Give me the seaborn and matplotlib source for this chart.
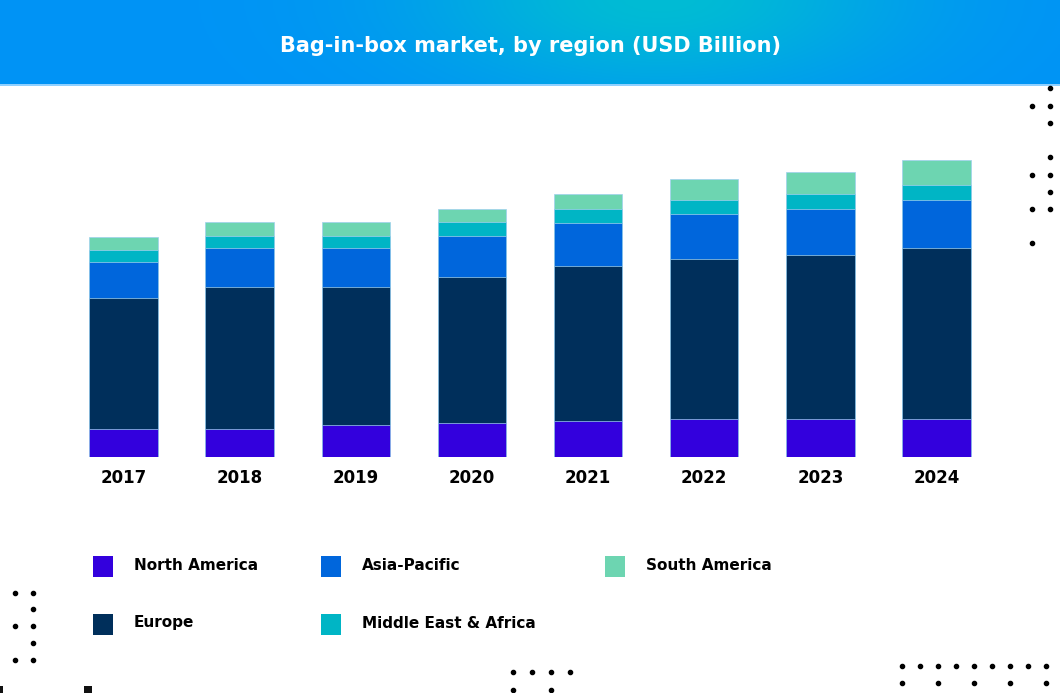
import numpy as np
import pandas as pd
import matplotlib.pyplot as plt
from matplotlib.patches import Rectangle
import seaborn as sns

years = ['2017', '2018', '2019', '2020', '2021', '2022', '2023', '2024']
north_america = [0.275, 0.275, 0.315, 0.338, 0.352, 0.375, 0.375, 0.375]
europe = [1.313, 1.420, 1.380, 1.457, 1.550, 1.597, 1.640, 1.710]
asia_pacific = [0.360, 0.390, 0.390, 0.413, 0.436, 0.450, 0.460, 0.483]
middle_east_africa = [0.117, 0.123, 0.120, 0.134, 0.140, 0.143, 0.153, 0.150]
south_america = [0.127, 0.134, 0.137, 0.136, 0.147, 0.213, 0.214, 0.247]

regions = ['North America', 'Europe', 'Asia-Pacific', 'Middle East & Africa', 'South America']
colors = ['#3300dd', '#002f5b', '#0066dc', '#00b5c5', '#6dd5b1']

df = pd.DataFrame({
    'year': years,
    'North America': north_america,
    'Europe': europe,
    'Asia-Pacific': asia_pacific,
    'Middle East & Africa': middle_east_africa,
    'South America': south_america,
})

sns.set_theme(style='white')
plt.rcParams['font.family'] = ['DejaVu Sans']

W, H = 1060, 693
fig = plt.figure(figsize=(W / 100, H / 100), dpi=100)

# header banner with soft gradient
bax = fig.add_axes([0, 1 - 84 / H, 1, 84 / H])
gx, gy = np.meshgrid(np.linspace(0, W, 400), np.linspace(0, 84, 40))
w = np.exp(-((gx - 660) / 240) ** 2 - ((gy + 5) / 100) ** 2)
base = np.array([0, 147, 246]) / 255
cyan = np.array([0, 188, 212]) / 255
img = base[None, None, :] * (1 - w[..., None]) + cyan[None, None, :] * w[..., None]
bax.imshow(img, aspect='auto', extent=[0, W, 84, 0])
bax.set_axis_off()
fig.add_artist(Rectangle((0, 1 - 86 / H), 1, 2 / H, transform=fig.transFigure,
                         color='#8fd0ff', lw=0))
fig.text(0.5, 1 - 46 / H, 'Bag-in-box market, by region (USD Billion)',
         color='white', fontsize=15, fontweight='heavy', ha='center', va='center')

# stacked bars: draw cumulative totals from the top layer down
ax = fig.add_axes([65.4 / W, 1 - 456.5 / H, (994.6 - 65.4) / W, 356.5 / H])
cum = df[regions].cumsum(axis=1)
for reg, col in reversed(list(zip(regions, colors))):
    sns.barplot(x=df['year'], y=cum[reg], color=col, width=0.59, ax=ax,
                edgecolor='#9fd0ee', linewidth=0.5, saturation=1)
ax.set_ylim(0, 3.565)
ax.set_xlim(-0.5, 7.5)
ax.set_xlabel('')
ax.set_ylabel('')
ax.set_yticks([])
ax.tick_params(axis='x', length=0, pad=9)
for lbl in ax.get_xticklabels():
    lbl.set_fontweight('bold')
    lbl.set_fontsize(12)
    lbl.set_color('black')
sns.despine(ax=ax, left=True, bottom=True)

# legend, laid out by hand
legend_pos = {
    'North America': (93, 556), 'Asia-Pacific': (321, 556), 'South America': (605, 556),
    'Europe': (93, 614), 'Middle East & Africa': (321, 614),
}
for reg, col in zip(regions, colors):
    x0, y0 = legend_pos[reg]
    fig.add_artist(Rectangle((x0 / W, 1 - (y0 + 21) / H), 20 / W, 21 / H,
                             transform=fig.transFigure, color=col, lw=0))
    fig.text((x0 + 41) / W, 1 - (y0 + 9) / H, reg, fontsize=11,
             fontweight='bold', color='black', va='center', ha='left')

# decorative dots
dots = [(1050, y) for y in [88, 106, 123, 157, 175, 192, 209]]
dots += [(1032, y) for y in [106, 175, 209, 243]]
dots += [(15, 593), (33, 593), (33, 609), (15, 626), (33, 626), (33, 643), (15, 660), (33, 660)]
dots += [(x, 672) for x in [513, 532, 551, 570]] + [(513, 690), (551, 690)]
dots += [(902 + 18 * i, 666) for i in range(9)] + [(902 + 36 * i, 683) for i in range(5)]
dx, dy = zip(*dots)
fig.add_artist(plt.Line2D([x / W for x in dx], [1 - y / H for y in dy], ls='none',
                          marker='o', ms=3, color='black', transform=fig.transFigure))
fig.add_artist(Rectangle((84 / W, 0), 8 / W, 7 / H, transform=fig.transFigure,
                         color='#111111', lw=0))
fig.add_artist(Rectangle((0, 0), 3 / W, 7 / H, transform=fig.transFigure,
                         color='#111111', lw=0))

fig.savefig('out.png', dpi=100)
